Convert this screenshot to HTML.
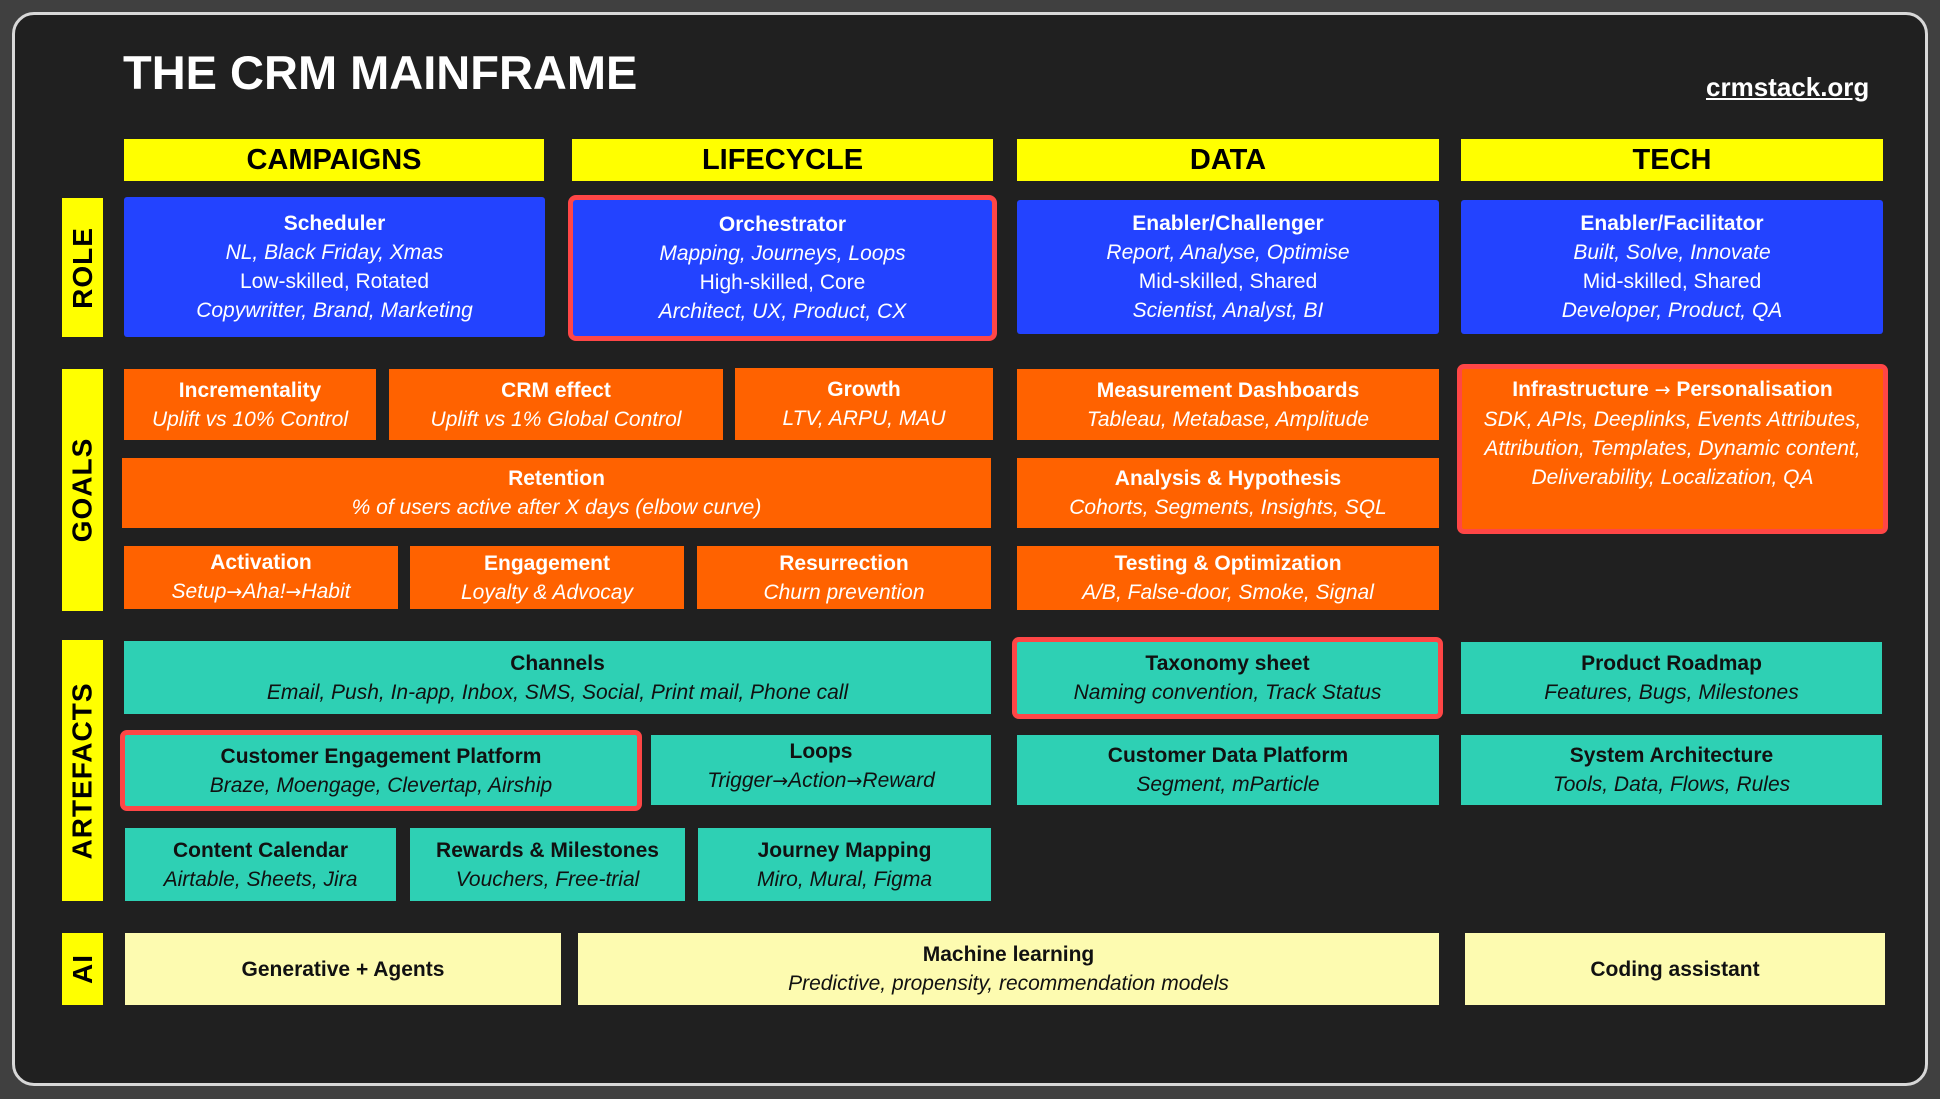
<!DOCTYPE html>
<html><head><meta charset="utf-8"><style>
*{margin:0;padding:0;box-sizing:border-box}
body{width:1940px;height:1099px;background:#404040;font-family:"Liberation Sans",sans-serif;position:relative;overflow:hidden}
#frame{position:absolute;left:12px;top:12px;width:1916px;height:1074px;background:#202020;border:3px solid #d8d8d8;border-radius:22px}
.b{position:absolute;display:flex;flex-direction:column;justify-content:center;align-items:center;text-align:center;font-size:21px;line-height:29px;color:#fff}
.b b{font-weight:bold}
.b i{font-style:italic}
.blue{background:#2343ff;border-radius:3px}
.or{background:#ff6200}
.te{background:#2ed0b4;color:#111}
.ly{background:#fdfbb0;color:#111}
.red{border:5px solid #ff4646;border-radius:7px}
.hd{position:absolute;background:#ffff00;color:#000;font-weight:bold;font-size:29px;display:flex;align-items:center;justify-content:center;top:139px;height:42px}
.sd{position:absolute;left:62px;width:41px;background:#ffff00;display:flex;align-items:center;justify-content:center}
.sd span{transform:rotate(-90deg);font-weight:bold;font-size:28px;color:#000;white-space:nowrap;letter-spacing:1px}
.ar{font-style:normal;font-family:"DejaVu Sans",sans-serif;font-size:19px}
</style></head><body>
<div id="frame"></div>
<div style="position:absolute;left:123px;top:43px;font-size:47px;font-weight:bold;color:#fff;line-height:60px">THE CRM MAINFRAME</div>
<div style="position:absolute;left:1706px;top:72px;font-size:26px;font-weight:bold;color:#fff;text-decoration:underline">crmstack.org</div>

<div class="hd" style="left:124px;width:420px">CAMPAIGNS</div>
<div class="hd" style="left:572px;width:421px">LIFECYCLE</div>
<div class="hd" style="left:1017px;width:422px">DATA</div>
<div class="hd" style="left:1461px;width:422px">TECH</div>

<div class="sd" style="top:198px;height:139px"><span>ROLE</span></div>
<div class="sd" style="top:369px;height:242px"><span>GOALS</span></div>
<div class="sd" style="top:640px;height:261px"><span>ARTEFACTS</span></div>
<div class="sd" style="top:933px;height:72px"><span>AI</span></div>

<div class="b blue" style="left:124px;top:197px;width:421px;height:140px"><b>Scheduler</b><i>NL, Black Friday, Xmas</i><span>Low-skilled, Rotated</span><i>Copywritter, Brand, Marketing</i></div>
<div class="b blue red" style="left:568px;top:195px;width:429px;height:146px;border-radius:8px"><b>Orchestrator</b><i>Mapping, Journeys, Loops</i><span>High-skilled, Core</span><i>Architect, UX, Product, CX</i></div>
<div class="b blue" style="left:1017px;top:200px;width:422px;height:134px"><b>Enabler/Challenger</b><i>Report, Analyse, Optimise</i><span>Mid-skilled, Shared</span><i>Scientist, Analyst, BI</i></div>
<div class="b blue" style="left:1461px;top:200px;width:422px;height:134px"><b>Enabler/Facilitator</b><i>Built, Solve, Innovate</i><span>Mid-skilled, Shared</span><i>Developer, Product, QA</i></div>

<div class="b or" style="left:124px;top:369px;width:252px;height:71px"><b>Incrementality</b><i>Uplift vs 10% Control</i></div>
<div class="b or" style="left:389px;top:369px;width:334px;height:71px"><b>CRM effect</b><i>Uplift vs 1% Global Control</i></div>
<div class="b or" style="left:735px;top:368px;width:258px;height:72px"><b>Growth</b><i>LTV, ARPU, MAU</i></div>
<div class="b or" style="left:1017px;top:369px;width:422px;height:71px"><b>Measurement Dashboards</b><i>Tableau, Metabase, Amplitude</i></div>
<div class="b or" style="left:122px;top:458px;width:869px;height:70px"><b>Retention</b><i>% of users active after X days (elbow curve)</i></div>
<div class="b or" style="left:1017px;top:458px;width:422px;height:70px"><b>Analysis &amp; Hypothesis</b><i>Cohorts, Segments, Insights, SQL</i></div>
<div class="b or" style="left:124px;top:546px;width:274px;height:63px"><b>Activation</b><i>Setup<span class="ar">→</span>Aha!<span class="ar">→</span>Habit</i></div>
<div class="b or" style="left:410px;top:546px;width:274px;height:63px"><b>Engagement</b><i>Loyalty &amp; Advocay</i></div>
<div class="b or" style="left:697px;top:546px;width:294px;height:63px"><b>Resurrection</b><i>Churn prevention</i></div>
<div class="b or" style="left:1017px;top:546px;width:422px;height:64px"><b>Testing &amp; Optimization</b><i>A/B, False-door, Smoke, Signal</i></div>
<div class="b or red" style="left:1457px;top:364px;width:431px;height:170px;justify-content:flex-start;padding-top:6px"><b>Infrastructure <span class="ar" style="font-weight:normal">→</span> Personalisation</b><i>SDK, APIs, Deeplinks, Events Attributes,</i><i>Attribution, Templates, Dynamic content,</i><i>Deliverability, Localization, QA</i></div>

<div class="b te" style="left:124px;top:641px;width:867px;height:73px"><b>Channels</b><i>Email, Push, In-app, Inbox, SMS, Social, Print mail, Phone call</i></div>
<div class="b te red" style="left:1012px;top:637px;width:431px;height:82px"><b>Taxonomy sheet</b><i>Naming convention, Track Status</i></div>
<div class="b te" style="left:1461px;top:642px;width:421px;height:72px"><b>Product Roadmap</b><i>Features, Bugs, Milestones</i></div>
<div class="b te red" style="left:120px;top:730px;width:522px;height:81px"><b>Customer Engagement Platform</b><i>Braze, Moengage, Clevertap, Airship</i></div>
<div class="b te" style="left:651px;top:735px;width:340px;height:70px;justify-content:flex-start;padding-top:2px"><b>Loops</b><i>Trigger<span class="ar">→</span>Action<span class="ar">→</span>Reward</i></div>
<div class="b te" style="left:1017px;top:735px;width:422px;height:70px"><b>Customer Data Platform</b><i>Segment, mParticle</i></div>
<div class="b te" style="left:1461px;top:735px;width:421px;height:70px"><b>System Architecture</b><i>Tools, Data, Flows, Rules</i></div>
<div class="b te" style="left:125px;top:828px;width:271px;height:73px"><b>Content Calendar</b><i>Airtable, Sheets, Jira</i></div>
<div class="b te" style="left:410px;top:828px;width:275px;height:73px"><b>Rewards &amp; Milestones</b><i>Vouchers, Free-trial</i></div>
<div class="b te" style="left:698px;top:828px;width:293px;height:73px"><b>Journey Mapping</b><i>Miro, Mural, Figma</i></div>

<div class="b ly" style="left:125px;top:933px;width:436px;height:72px"><b>Generative + Agents</b></div>
<div class="b ly" style="left:578px;top:933px;width:861px;height:72px"><b>Machine learning</b><i>Predictive, propensity, recommendation models</i></div>
<div class="b ly" style="left:1465px;top:933px;width:420px;height:72px"><b>Coding assistant</b></div>
</body></html>
